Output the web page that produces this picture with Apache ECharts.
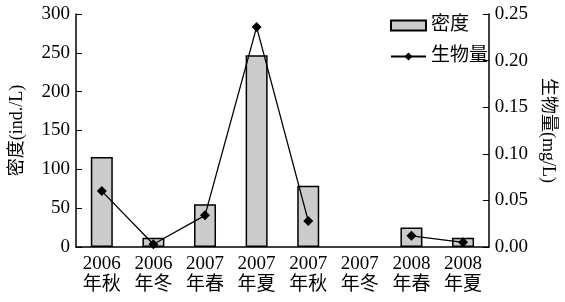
<!DOCTYPE html>
<html><head><meta charset="utf-8">
<script src="https://cdn.jsdelivr.net/npm/echarts@6/dist/echarts.min.js"></script>
<style>html,body{margin:0;padding:0;background:#fff}#c{width:565px;height:302px}</style>
</head><body><div id="c"></div>
<script>
const categories = ['2006\n年秋','2006\n年冬','2007\n年春','2007\n年夏','2007\n年秋','2007\n年冬','2008\n年春','2008\n年夏'];
const density = [116, 12, 55, 247, 79, null, 25, 12];
const biomass = [0.060, 0.003, 0.034, 0.236, 0.028, null, 0.012, 0.005];
const leftTicks = [0, 50, 100, 150, 200, 250, 300];
const rightTicks = [0, 0.05, 0.10, 0.15, 0.20, 0.25];
const font = '"Liberation Serif","Noto Sans CJK SC",serif';
const chart = echarts.init(document.getElementById('c'));
chart.setOption({
  animation:false,
  textStyle:{fontFamily:font},
  grid:{left:73,right:59,top:14,bottom:55},
  legend:{
    right:72, top:11, orient:'vertical', itemGap:12, itemWidth:35, itemHeight:10,
    textStyle:{fontFamily:font,fontSize:19,color:'#000'},
    data:[{name:'密度',icon:'rect'},{name:'生物量'}]
  },
  xAxis:{
    type:'category', data:categories,
    axisLine:{lineStyle:{color:'#000',width:1.5}},
    axisTick:{inside:true,length:6,lineStyle:{color:'#000'}},
    axisLabel:{color:'#000',fontSize:19,fontFamily:font,lineHeight:21,margin:7}
  },
  yAxis:[{
    type:'value', min:0, max:300, interval:50,
    name:'密度(ind./L)', nameLocation:'middle', nameGap:50, nameRotate:90,
    nameTextStyle:{color:'#000',fontSize:18,fontFamily:font},
    axisLine:{show:true,lineStyle:{color:'#000',width:1.5}},
    axisTick:{show:true,inside:true,length:6,lineStyle:{color:'#000'}},
    axisLabel:{color:'#000',fontSize:19,fontFamily:font,margin:6},
    splitLine:{show:false}
  },{
    type:'value', min:0, max:0.25, interval:0.05,
    name:'生物量(mg/L)', nameLocation:'middle', nameGap:44, nameRotate:-90,
    nameTextStyle:{color:'#000',fontSize:18,fontFamily:font},
    axisLine:{show:true,lineStyle:{color:'#000',width:1.5}},
    axisTick:{show:true,inside:true,length:6,lineStyle:{color:'#000'}},
    axisLabel:{color:'#000',fontSize:19,fontFamily:font,margin:6,formatter:v=>v.toFixed(2)},
    splitLine:{show:false}
  }],
  series:[{
    name:'密度', type:'bar', data:density, barWidth:22, yAxisIndex:0,
    itemStyle:{color:'#cccccc',borderColor:'#000',borderWidth:1.5}
  },{
    name:'生物量', type:'line', data:biomass, yAxisIndex:1, connectNulls:false,
    symbol:'diamond', symbolSize:10,
    lineStyle:{color:'#000',width:1.3}, itemStyle:{color:'#000'}
  }]
});
</script></body></html>
